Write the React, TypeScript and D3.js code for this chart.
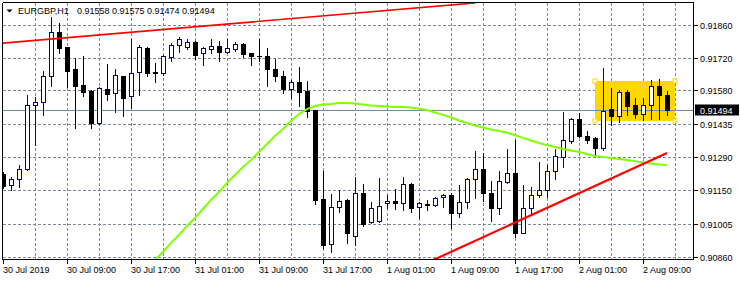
import React from "react";
import * as d3 from "d3";

const SYMBOL = "EURGBP,H1";

const OPEN = [
  0.91219, 0.91171, 0.91197, 0.9124, 0.91516, 0.91529, 0.9164, 0.9183, 0.91765, 0.91671,
  0.91602, 0.91576, 0.91438, 0.91584, 0.91567, 0.9164, 0.91554, 0.91658, 0.91761, 0.91657,
  0.91653, 0.91722, 0.91774, 0.91765, 0.91787, 0.91739, 0.91757, 0.9177, 0.91744, 0.91757,
  0.91778, 0.91739, 0.91726, 0.91726, 0.91671, 0.9164, 0.91584, 0.91615, 0.91576, 0.91494,
  0.91111, 0.90917, 0.91077, 0.91107, 0.90952, 0.91137, 0.91012, 0.91016, 0.91094, 0.91102,
  0.91094, 0.91176, 0.91077, 0.91089, 0.91085, 0.9112, 0.91128, 0.91051, 0.91098, 0.91197,
  0.9124, 0.91137, 0.91072, 0.91184, 0.91223, 0.90965, 0.91072, 0.91128, 0.9115, 0.91231,
  0.91292, 0.91361, 0.91455, 0.91382, 0.91374, 0.9133, 0.91498, 0.91468, 0.91572, 0.91516,
  0.91477, 0.91516, 0.91597, 0.91558,
];
const HIGH = [
  0.91227, 0.91206, 0.91257, 0.91559, 0.9155, 0.91662, 0.91894, 0.91869, 0.91767, 0.91718,
  0.91726, 0.9158, 0.91593, 0.91692, 0.91671, 0.91642, 0.918, 0.91774, 0.91765, 0.91696,
  0.91731, 0.91782, 0.91808, 0.918, 0.91791, 0.91765, 0.918, 0.91791, 0.918, 0.91787,
  0.91782, 0.91741, 0.918, 0.91761, 0.91714, 0.91662, 0.91623, 0.91679, 0.91619, 0.91496,
  0.91231, 0.91133, 0.9115, 0.91111, 0.91206, 0.91176, 0.91098, 0.91201, 0.91128, 0.91154,
  0.91206, 0.91178, 0.91098, 0.91107, 0.9112, 0.91133, 0.91137, 0.91171, 0.91201, 0.91318,
  0.91309, 0.91188, 0.91231, 0.91326, 0.91365, 0.91171, 0.91163, 0.9127, 0.91257, 0.91326,
  0.91485, 0.9146, 0.91481, 0.91404, 0.91378, 0.91675, 0.91589, 0.9158, 0.9158, 0.91546,
  0.91546, 0.91623, 0.91628, 0.91575,
];
const LOW = [
  0.91158, 0.9115, 0.91163, 0.91236, 0.91343, 0.91473, 0.91597, 0.91739, 0.91593, 0.91417,
  0.91554, 0.91417, 0.91434, 0.91537, 0.91485, 0.91468, 0.91503, 0.91559, 0.9164, 0.91615,
  0.91645, 0.91705, 0.91744, 0.91757, 0.91714, 0.91688, 0.91739, 0.91705, 0.91739, 0.91748,
  0.91722, 0.91688, 0.91705, 0.91597, 0.91619, 0.91567, 0.91546, 0.91511, 0.91464, 0.91089,
  0.909, 0.90883, 0.91055, 0.90922, 0.90913, 0.90995, 0.91008, 0.91014, 0.91072, 0.91068,
  0.91064, 0.91055, 0.91029, 0.91064, 0.91081, 0.91077, 0.90986, 0.91033, 0.91072, 0.91115,
  0.91102, 0.91016, 0.91046, 0.9118, 0.90947, 0.90963, 0.91042, 0.9112, 0.9112, 0.91197,
  0.91249, 0.91352, 0.91378, 0.91352, 0.91296, 0.91322, 0.9143, 0.91442, 0.91473, 0.9146,
  0.91451, 0.91455, 0.91455, 0.91474,
];
const CLOSE = [
  0.91167, 0.91197, 0.9124, 0.91516, 0.91529, 0.9164, 0.9183, 0.91761, 0.91662, 0.91597,
  0.91572, 0.91438, 0.91589, 0.91563, 0.91645, 0.91546, 0.91653, 0.91765, 0.91653, 0.91655,
  0.91726, 0.91774, 0.918, 0.91787, 0.91731, 0.91761, 0.9177, 0.91744, 0.91761, 0.91778,
  0.91735, 0.91726, 0.91725, 0.91671, 0.9164, 0.91584, 0.91615, 0.91572, 0.9149, 0.91107,
  0.90913, 0.91077, 0.91102, 0.90965, 0.91137, 0.91003, 0.91072, 0.91081, 0.91102, 0.91094,
  0.91176, 0.91072, 0.91094, 0.91085, 0.91115, 0.91128, 0.91051, 0.91098, 0.91197, 0.9124,
  0.91137, 0.91072, 0.91188, 0.91223, 0.90965, 0.91072, 0.91128, 0.9115, 0.91231, 0.91296,
  0.91365, 0.91455, 0.91382, 0.91365, 0.9133, 0.9149, 0.91468, 0.91572, 0.91511, 0.91477,
  0.91516, 0.91597, 0.91559, 0.91494,
];

// moving average, first value belongs to bar MA_START
const MA_START = 18;
const MA = [
  0.9081, 0.90848, 0.90883, 0.90922, 0.90956, 0.90995, 0.91029, 0.91068, 0.91107, 0.91141,
  0.9118, 0.91214, 0.91249, 0.91279, 0.91313, 0.91348, 0.91382, 0.91412, 0.91447, 0.91477,
  0.91498, 0.91511, 0.91518, 0.9152, 0.91524, 0.91524, 0.91522, 0.91518, 0.91513, 0.91511,
  0.91509, 0.91507, 0.91507, 0.91505, 0.915, 0.91494, 0.91483, 0.91473, 0.91462, 0.91449,
  0.91438, 0.91427, 0.91419, 0.9141, 0.91404, 0.91397, 0.91386, 0.91374, 0.91363, 0.91352,
  0.91343, 0.91335, 0.91326, 0.9132, 0.91313, 0.91305, 0.91296, 0.91292, 0.91287, 0.91283,
  0.91279, 0.91274, 0.91268, 0.91264, 0.91259, 0.91257,
];

const PRICE_TICKS = [0.9186, 0.9172, 0.9158, 0.91435, 0.9129, 0.9115, 0.91005, 0.9086];
const TIME_TICK_BARS = [0, 8, 16, 24, 32, 40, 48, 56, 64, 72, 80];
const TIME_LABELS = [
  "30 Jul 2019", "30 Jul 09:00", "30 Jul 17:00", "31 Jul 01:00", "31 Jul 09:00",
  "31 Jul 17:00", "1 Aug 01:00", "1 Aug 09:00", "1 Aug 17:00", "2 Aug 01:00", "2 Aug 09:00",
];

const UPPER_TREND_BARS = [-1, 59];
const UPPER_TREND_PRICES = [0.91779, 0.91955];
const LOWER_TREND_BARS = [53, 83];
const LOWER_TREND_PRICES = [0.90836, 0.91309];

const RECT_BARS = [74, 84];
const RECT_PRICES = [0.91619, 0.91447];

const BID = 0.91494;

const W = 740;
const H = 281;
const FONT = "'Liberation Sans', Arial, sans-serif";
const GRID = "#778899";
const BULL = "#000080";

export default function App() {
  const x = d3.scaleLinear().domain([0, 83]).range([3, 667]);
  const y = d3.scaleLinear().domain([0.9086, 0.9186]).range([257.3, 25]);
  const fmt = d3.format(".5f");

  const left = 2.5, top = 2.5, right = 693.5, bottom = 259.5;

  const vGrid = d3.range(35, 693, 32);

  const trendLine = d3
    .line<[number, number]>()
    .x((d) => x(d[0]))
    .y((d) => y(d[1]));

  const maLine = d3
    .line<number>()
    .x((_, i) => x(i + MA_START))
    .y((d) => y(d))
    .curve(d3.curveLinear);

  const upper: [number, number][] = UPPER_TREND_BARS.map((b, i) => [b, UPPER_TREND_PRICES[i]]);
  const lower: [number, number][] = LOWER_TREND_BARS.map((b, i) => [b, LOWER_TREND_PRICES[i]]);

  const rx0 = Math.round(x(RECT_BARS[0]));
  const rx1 = Math.round(x(RECT_BARS[1]));
  const ry0 = Math.round(y(RECT_PRICES[0]));
  const ry1 = Math.round(y(RECT_PRICES[1]));
  const handles = [
    [rx0, ry0],
    [rx1, ry0],
    [rx0, ry1],
    [rx1, ry1],
  ];

  const bidY = Math.round(y(BID)) + 0.5;

  return (
    <svg
      width={W}
      height={H}
      style={{ position: "absolute", left: 0, top: 0, background: "#fff" }}
      fontFamily={FONT}
      fontSize={9}
    >
      <defs>
        <clipPath id="plot">
          <rect x={3} y={3} width={690} height={256} />
        </clipPath>
      </defs>
      <rect x={0} y={0} width={W} height={H} fill="#fff" />

      {/* grid */}
      <g stroke={GRID} strokeWidth={1} strokeDasharray="3,2" shapeRendering="crispEdges">
        {PRICE_TICKS.map((p) => (
          <line key={p} x1={3} x2={693} y1={Math.round(y(p)) + 0.5} y2={Math.round(y(p)) + 0.5} />
        ))}
        {vGrid.map((gx) => (
          <line key={gx} x1={gx + 0.5} x2={gx + 0.5} y1={3} y2={259} />
        ))}
      </g>

      <g clipPath="url(#plot)">
        {/* rectangle object */}
        <rect x={rx0} y={ry0} width={rx1 - rx0} height={ry1 - ry0} fill="#FFD700" />

        {/* bid line */}
        <line x1={3} x2={693} y1={bidY} y2={bidY} stroke={GRID} strokeWidth={1} shapeRendering="crispEdges" />

        {/* candles */}
        <g shapeRendering="crispEdges">
          {OPEN.map((o, i) => {
            const c = CLOSE[i];
            const cx = Math.round(x(i));
            const bull = c > o;
            const yt = Math.round(y(Math.max(o, c)));
            const yb = Math.round(y(Math.min(o, c)));
            const yh = Math.round(y(HIGH[i]));
            const yl = Math.round(y(LOW[i]));
            const col = bull ? BULL : "#000";
            return (
              <g key={i}>
                <line x1={cx + 0.5} x2={cx + 0.5} y1={yh} y2={yl + 1} stroke={col} strokeWidth={1} />
                {bull ? (
                  <rect
                    x={cx - 2 + 0.5}
                    y={yt + 0.5}
                    width={4}
                    height={Math.max(yb - yt, 1)}
                    fill="#fff"
                    stroke={BULL}
                    strokeWidth={1}
                  />
                ) : (
                  <rect x={cx - 2} y={yt} width={5} height={Math.max(yb - yt + 1, 1)} fill="#000" />
                )}
              </g>
            );
          })}
        </g>

        {/* moving average */}
        <path d={maLine(MA) || ""} fill="none" stroke="#7FFF00" strokeWidth={2} />

        {/* trend lines */}
        <path d={trendLine(upper) || ""} fill="none" stroke="#FF0000" strokeWidth={1.6} />
        <path d={trendLine(lower) || ""} fill="none" stroke="#FF0000" strokeWidth={2.2} />

        {/* rectangle handles */}
        {handles.map(([hx, hy], i) => (
          <rect key={i} x={hx - 2} y={hy - 2} width={4} height={4} fill="#fff" stroke="#FFD700" strokeWidth={1} />
        ))}
      </g>

      {/* frame */}
      <g stroke="#000" strokeWidth={1} shapeRendering="crispEdges" fill="none">
        <line x1={left} x2={right} y1={top} y2={top} />
        <line x1={left} x2={right} y1={bottom} y2={bottom} />
        <line x1={left} x2={left} y1={top} y2={bottom} />
        <line x1={right} x2={right} y1={top} y2={bottom} />
      </g>

      {/* price axis */}
      <g>
        {PRICE_TICKS.map((p) => {
          const py = Math.round(y(p)) + 0.5;
          return (
            <g key={p}>
              <line x1={694} x2={698} y1={py} y2={py} stroke="#000" shapeRendering="crispEdges" />
              <text x={700} y={py + 3.3} fill="#000">
                {fmt(p)}
              </text>
            </g>
          );
        })}
        <rect x={695} y={bidY - 6} width={44} height={11} fill="#000" />
        <text x={700} y={bidY + 3.3} fill="#fff">
          {fmt(BID)}
        </text>
      </g>

      {/* time axis */}
      <g>
        {TIME_TICK_BARS.map((b, i) => {
          const tx = Math.round(x(b)) + 0.5;
          return (
            <g key={b}>
              <line x1={tx} x2={tx} y1={260} y2={264} stroke="#000" shapeRendering="crispEdges" />
              <text x={tx - 0.5} y={272.5} fill="#000">
                {TIME_LABELS[i]}
              </text>
            </g>
          );
        })}
      </g>

      {/* header */}
      <path d="M6.5,9.5 L12.5,9.5 L9.5,12.5 Z" fill="#000" />
      <text x={18} y={13.5} fill="#000">
        {SYMBOL}
      </text>
      <text x={77} y={13.5} fill="#000">
        {[OPEN[83], HIGH[83], LOW[83], CLOSE[83]].map(fmt).join(" ")}
      </text>
    </svg>
  );
}
